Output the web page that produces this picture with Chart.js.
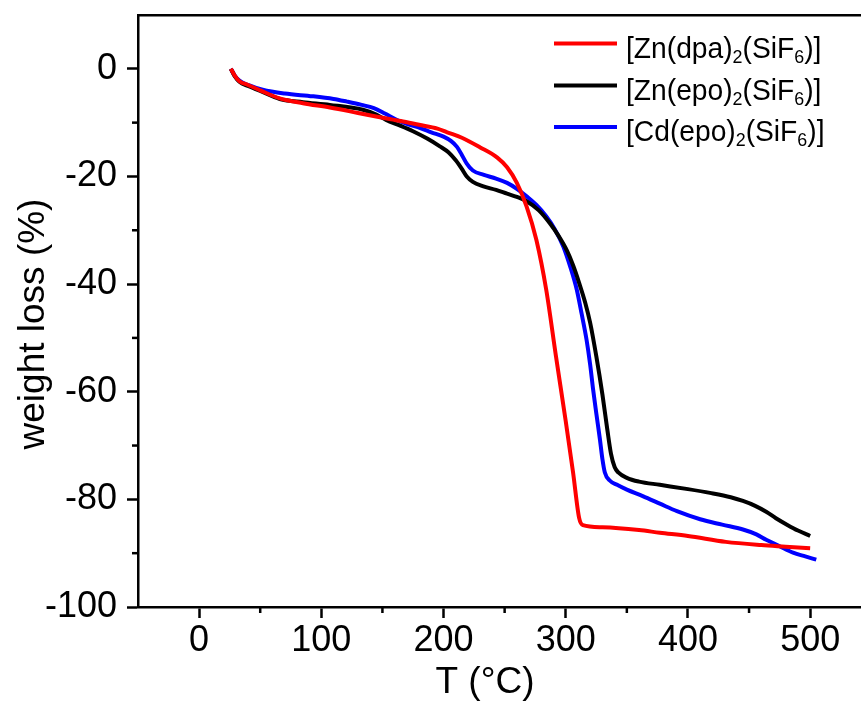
<!DOCTYPE html>
<html>
<head>
<meta charset="utf-8">
<script src="https://cdn.jsdelivr.net/npm/chart.js@4/dist/chart.umd.min.js"></script>
<style>
  html, body { margin: 0; padding: 0; background: #ffffff; overflow: hidden; }
  canvas { display: block; }
</style>
</head>
<body>
<canvas id="tga" width="861" height="705"></canvas>
<script>
// Thermogravimetric curves: temperature (°C) vs weight loss (%)
const seriesLabels = ['[Zn(dpa)₂(SiF₆)]', '[Zn(epo)₂(SiF₆)]', '[Cd(epo)₂(SiF₆)]'];

const tempZnDpa = [26, 29, 33, 40, 50, 66, 85, 107, 130, 148, 165, 180, 195, 203, 215, 230, 244, 252, 260, 268, 276, 284, 292, 300, 306, 311, 314, 330, 360, 377, 400, 431, 460, 480, 500];
const lossZnDpa = [0, -1.2, -2.3, -3.0, -4.0, -5.5, -6.4, -7.2, -8.2, -9.0, -9.7, -10.4, -11.1, -11.8, -12.8, -14.6, -16.5, -18.3, -21.2, -25.6, -31.8, -41.0, -53.4, -65.5, -75.0, -83.5, -84.8, -85.2, -85.7, -86.2, -86.8, -87.9, -88.5, -88.8, -89.1];

const tempZnEpo = [26, 29, 33, 40, 50, 66, 85, 107, 134, 145, 153, 165, 175, 187, 197, 204, 210, 215, 219, 224, 232, 243, 252, 260, 268, 278, 287, 294, 301, 306, 311, 316, 320, 325, 330, 334, 337, 340, 343, 350, 360, 377, 400, 418, 435, 445, 455, 464, 472, 481, 490, 500];
const lossZnEpo = [0, -1.3, -2.4, -3.2, -4.1, -5.6, -6.2, -6.7, -7.6, -8.5, -9.5, -10.6, -11.6, -13.0, -14.4, -15.5, -17.0, -18.6, -20.0, -21.0, -21.8, -22.5, -23.2, -23.8, -24.6, -26.3, -28.7, -31.0, -33.8, -36.5, -39.8, -43.5, -47.2, -53.4, -60.5, -67.0, -71.5, -74.0, -75.0, -76.0, -76.7, -77.3, -78.1, -78.8, -79.6, -80.3, -81.2, -82.3, -83.5, -84.7, -85.8, -86.8];

const tempCdEpo = [26, 29, 33, 40, 52, 70, 93, 110, 121, 133, 143, 152, 162, 171, 181, 190, 200, 206, 211, 215, 219, 224, 233, 243, 252, 260, 268, 276, 284, 291, 298, 304, 309, 313, 317, 320, 322.4, 325, 328, 330, 332, 336, 342, 350, 363, 377, 391, 410, 428, 445, 456, 464, 475, 486, 496, 505];
const lossCdEpo = [0, -1.2, -2.2, -3.0, -3.9, -4.6, -5.1, -5.6, -6.1, -6.7, -7.3, -8.3, -9.5, -10.3, -11.0, -11.8, -12.6, -13.4, -14.5, -16.0, -17.6, -18.9, -19.7, -20.4, -21.2, -22.3, -23.7, -25.3, -27.4, -29.8, -33.0, -37.0, -41.0, -45.5, -50.3, -55.0, -59.6, -64.0, -68.9, -72.5, -75.0, -76.5, -77.3, -78.2, -79.4, -80.8, -82.2, -83.7, -84.7, -85.6, -86.5, -87.5, -88.7, -89.9, -90.6, -91.2];

const xTickValues = [0, 100, 200, 300, 400, 500];
const xMinorTicks = [50, 150, 250, 350, 450];
const yTickValues = [-100, -80, -60, -40, -20, 0];
const yMinorTicks = [-90, -70, -50, -30, -10];

const xTitle = 'T (°C)';
const yTitle = 'weight loss (%)';

// styling
const seriesColors = ['#ff0000', '#000000', '#0000ff'];
const FONT = '"Liberation Sans", Arial, sans-serif';
const AXIS_W = 2.5;
const LINE_W = 4;

function toPoints(xs, ys) {
  return xs.map((x, i) => ({ x: x, y: ys[i] }));
}

const datasets = [
  [tempZnDpa, lossZnDpa],
  [tempZnEpo, lossZnEpo],
  [tempCdEpo, lossCdEpo]
].map(([xs, ys], i) => ({
  label: seriesLabels[i],
  data: toPoints(xs, ys),
  borderColor: seriesColors[i],
  backgroundColor: seriesColors[i],
  borderWidth: LINE_W,
  pointRadius: 0,
  cubicInterpolationMode: 'monotone',
  fill: false
}));

function noEdgePadding(scale) {
  scale.paddingTop = 0;
  scale.paddingBottom = 0;
  scale.paddingLeft = 0;
  scale.paddingRight = 0;
}

// minor tick marks, axis titles and a legend with subscripts
const decorations = {
  id: 'decorations',
  afterDraw(chart) {
    const ctx = chart.ctx;
    const xs = chart.scales.x, ys = chart.scales.y;
    const area = chart.chartArea;
    ctx.save();
    ctx.strokeStyle = '#000';
    ctx.lineWidth = AXIS_W;
    ctx.lineCap = 'butt';
    xMinorTicks.forEach(v => {
      const px = xs.getPixelForValue(v);
      ctx.beginPath();
      ctx.moveTo(px, area.bottom);
      ctx.lineTo(px, area.bottom + 6);
      ctx.stroke();
    });
    yMinorTicks.forEach(v => {
      const py = ys.getPixelForValue(v);
      ctx.beginPath();
      ctx.moveTo(area.left, py);
      ctx.lineTo(area.left - 6, py);
      ctx.stroke();
    });

    // axis titles
    ctx.fillStyle = '#000';
    ctx.font = '37px ' + FONT;
    ctx.textAlign = 'center';
    ctx.textBaseline = 'middle';
    ctx.fillText(xTitle, 485, 683);
    ctx.save();
    ctx.translate(34, 324);
    ctx.rotate(-Math.PI / 2);
    ctx.fillText(yTitle, 0, 0);
    ctx.restore();

    // legend (slightly condensed text, subscripted digits)
    const subs = '₀₁₂₃₄₅₆₇₈₉';
    const legX = 554, lineLen = 63, gap = 9, squeeze = 0.94;
    const rowY = [43.5, 85.5, 127];
    chart.data.datasets.forEach((ds, i) => {
      const y = rowY[i];
      ctx.strokeStyle = ds.borderColor;
      ctx.lineWidth = LINE_W;
      ctx.beginPath();
      ctx.moveTo(legX, y);
      ctx.lineTo(legX + lineLen, y);
      ctx.stroke();
      const base = y + 14;
      ctx.save();
      ctx.translate(legX + lineLen + gap, 0);
      ctx.scale(squeeze, 1);
      let x = 0;
      ctx.fillStyle = '#000';
      ctx.textAlign = 'left';
      ctx.textBaseline = 'alphabetic';
      for (const ch of ds.label) {
        const k = subs.indexOf(ch);
        if (k >= 0) {
          ctx.font = '19px ' + FONT;
          const d = String(k);
          ctx.fillText(d, x, base + 5);
          x += ctx.measureText(d).width;
        } else {
          ctx.font = '30px ' + FONT;
          ctx.fillText(ch, x, base);
          x += ctx.measureText(ch).width;
        }
      }
      ctx.restore();
    });
    ctx.restore();
  }
};

new Chart(document.getElementById('tga'), {
  type: 'line',
  data: { datasets: datasets },
  options: {
    responsive: false,
    animation: false,
    devicePixelRatio: 1,
    layout: { padding: { top: 15, left: 0, right: 0, bottom: 0 } },
    plugins: { legend: { display: false }, tooltip: { enabled: false } },
    scales: {
      x: {
        type: 'linear',
        position: 'bottom',
        min: -50,
        max: 541.6,
        afterBuildTicks(scale) { scale.ticks = xTickValues.map(v => ({ value: v })); },
        afterFit(scale) { scale.height = 98; noEdgePadding(scale); },
        ticks: {
          color: '#000',
          font: { family: FONT, size: 36 },
          padding: 1,
          maxRotation: 0,
          autoSkip: false,
          callback: v => String(v)
        },
        grid: {
          drawOnChartArea: false,
          drawTicks: true,
          tickLength: 11,
          tickWidth: AXIS_W,
          tickColor: '#000'
        },
        border: { display: true, color: '#000', width: AXIS_W }
      },
      xTop: {
        type: 'linear',
        position: 'top',
        min: -50,
        max: 541.6,
        afterFit(scale) { scale.height = 0; noEdgePadding(scale); },
        ticks: { display: false },
        grid: { display: false, drawTicks: false },
        border: { display: true, color: '#000', width: AXIS_W }
      },
      y: {
        type: 'linear',
        position: 'left',
        min: -100,
        max: 10,
        afterBuildTicks(scale) { scale.ticks = yTickValues.map(v => ({ value: v })); },
        afterFit(scale) { scale.width = 138; noEdgePadding(scale); },
        ticks: {
          color: '#000',
          font: { family: FONT, size: 36 },
          padding: 10,
          callback: v => String(v)
        },
        grid: {
          drawOnChartArea: false,
          drawTicks: true,
          tickLength: 11,
          tickWidth: AXIS_W,
          tickColor: '#000'
        },
        border: { display: true, color: '#000', width: AXIS_W }
      }
    }
  },
  plugins: [decorations]
});
</script>
</body>
</html>
